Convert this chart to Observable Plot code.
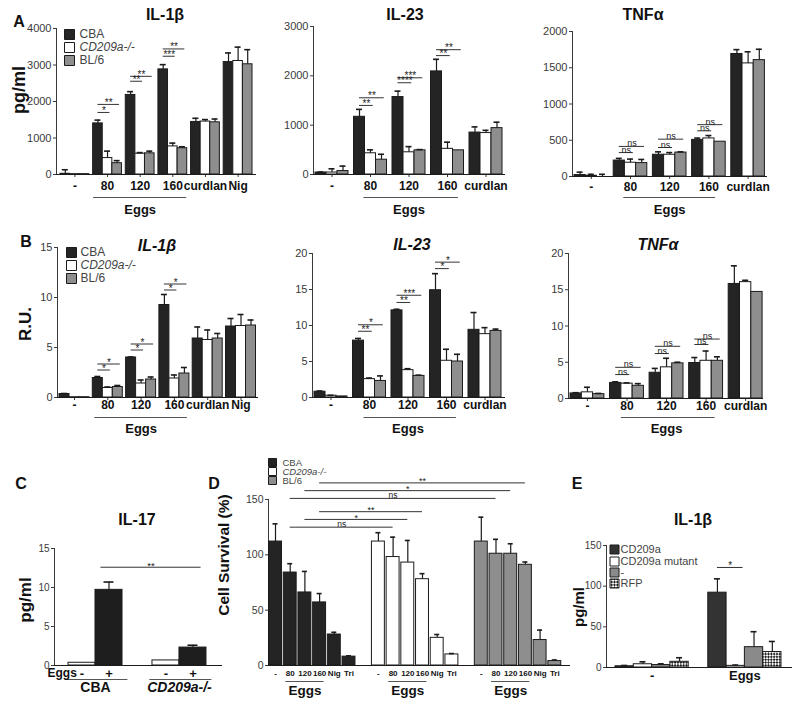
<!DOCTYPE html>
<html><head><meta charset="utf-8">
<script src="https://cdn.jsdelivr.net/npm/d3@7"></script>
<script src="https://cdn.jsdelivr.net/npm/@observablehq/plot@0.6"></script>
<style>
body{margin:0;background:#fff;font-family:"Liberation Sans",Arial,sans-serif;}
#root{position:relative;width:800px;height:705px;overflow:hidden;background:#fff;}
.abs{position:absolute;white-space:nowrap;font-weight:bold;color:#111;line-height:1;}
.ctr{transform:translate(-50%,-50%);}
.rot{transform:translate(-50%,-50%) rotate(-90deg);}
</style></head><body><div id="root"></div>
<script>
// ---------------- DATA ----------------
const seriesNames = ["CBA", "CD209a-/-", "BL/6"];
const seriesColors = ["#242424", "#ffffff", "#8e8e8e"];
const treatA = ["-", "80", "120", "160", "curdlan", "Nig"];
const treatA5 = ["-", "80", "120", "160", "curdlan"];

// Panel A, IL-1β (pg/ml)
const aIl1bCBA = [20, 1400, 2180, 2880, 1440, 3080];
const aIl1bCBAErr = [110, 90, 90, 130, 100, 250];
const aIl1bKO = [10, 450, 570, 770, 1450, 3110];
const aIl1bKOErr = [0, 190, 30, 90, 55, 380];
const aIl1bBL6 = [10, 310, 580, 720, 1430, 3020];
const aIl1bBL6Err = [0, 70, 60, 40, 90, 400];
const aIl1bSig = [[1, 1, 1700, "*"], [1, 2, 1920, "**"], [2, 1, 2555, "**"], [2, 2, 2690, "**"], [3, 1, 3240, "***"], [3, 2, 3440, "**"]];
// Panel A, IL-23
const aIl23CBA = [40, 1170, 1570, 2090, 850];
const aIl23CBAErr = [10, 150, 120, 245, 115];
const aIl23KO = [40, 430, 450, 520, 840];
const aIl23KOErr = [75, 70, 115, 135, 55];
const aIl23BL6 = [70, 300, 490, 490, 940];
const aIl23BL6Err = [100, 110, 15, 0, 120];
const aIl23Sig = [[1, 1, 1400, "**"], [1, 2, 1555, "**"], [2, 1, 1860, "****"], [2, 2, 1960, "***"], [3, 1, 2410, "**"], [3, 2, 2530, "**"]];
// Panel A, TNFα
const aTnfCBA = [20, 220, 300, 505, 1690];
const aTnfCBAErr = [40, 30, 40, 25, 60];
const aTnfKO = [10, 190, 300, 525, 1560];
const aTnfKOErr = [20, 50, 30, 40, 160];
const aTnfBL6 = [0, 185, 330, 480, 1605];
const aTnfBL6Err = [30, 50, 10, 0, 150];
const aTnfSig = [[1, 1, 330, "ns"], [1, 2, 415, "ns"], [2, 1, 400, "ns"], [2, 2, 515, "ns"], [3, 1, 630, "ns"], [3, 2, 715, "ns"]];

// Panel B, IL-1β (R.U.)
const bIl1bCBA = [0.35, 1.95, 4.0, 9.25, 5.9, 7.1];
const bIl1bCBAErr = [0.05, 0.15, 0.05, 1.05, 1.15, 0.8];
const bIl1bKO = [0.03, 0.95, 1.4, 1.9, 5.75, 7.15];
const bIl1bKOErr = [0, 0.1, 0.35, 0.35, 1.0, 1.15];
const bIl1bBL6 = [0.03, 1.05, 1.8, 2.4, 5.9, 7.2];
const bIl1bBL6Err = [0, 0.15, 0.25, 0.6, 0.5, 0.55];
const bIl1bSig = [[1, 1, 2.75, "*"], [1, 2, 3.35, "*"], [2, 1, 4.75, "*"], [2, 2, 5.35, "*"], [3, 1, 10.75, "*"], [3, 2, 11.35, "*"]];
// Panel B, IL-23
const bIl23CBA = [0.8, 7.9, 12.1, 14.9, 9.4];
const bIl23CBAErr = [0.1, 0.3, 0.15, 2.3, 2.4];
const bIl23KO = [0.25, 2.55, 3.8, 5.1, 8.8];
const bIl23KOErr = [0.05, 0.15, 0.2, 1.6, 0.9];
const bIl23BL6 = [0.15, 2.3, 3.0, 5.0, 9.25];
const bIl23BL6Err = [0, 0.7, 0.1, 1.0, 0.25];
const bIl23Sig = [[1, 1, 9.2, "**"], [1, 2, 10.1, "*"], [2, 1, 13.2, "**"], [2, 2, 14.2, "***"], [3, 1, 17.9, "*"], [3, 2, 18.8, "*"]];
// Panel B, TNFα
const bTnfCBA = [0.7, 2.15, 3.55, 4.9, 15.8];
const bTnfCBAErr = [0.1, 0.15, 0.6, 0.75, 2.5];
const bTnfKO = [0.85, 2.05, 4.3, 5.2, 16.05];
const bTnfKOErr = [0.7, 0.1, 1.25, 1.35, 0.25];
const bTnfBL6 = [0.6, 1.75, 4.85, 5.2, 14.7];
const bTnfBL6Err = [0.1, 0.3, 0.15, 0.55, 0];
const bTnfSig = [[1, 1, 3.3, "ns"], [1, 2, 4.3, "ns"], [2, 1, 6.2, "ns"], [2, 2, 7.2, "ns"], [3, 1, 7.45, "ns"], [3, 2, 8.2, "ns"]];

// Panel C, IL-17 (pg/ml): [Eggs -, Eggs +]
const cStrains = ["CBA", "CD209a-/-"];
const cEggs = ["-", "+"];
const cCBA = [0.35, 9.7];
const cCBAErr = [0, 1.0];
const cKO = [0.65, 2.3];
const cKOErr = [0, 0.3];
const cSig = [12.6, "**"];

// Panel D, cell survival (%)
const dTreat = ["-", "80", "120", "160", "Nig", "Tri"];
const dCBA = [112, 84, 66, 57, 28, 8];
const dCBAErr = [16, 8, 19, 8, 2, 0.7];
const dKO = [112, 98, 93, 78, 25, 10];
const dKOErr = [8, 18, 20, 5, 3, 0.8];
const dBL6 = [112, 101, 101, 91, 23, 4];
const dBL6Err = [22, 13, 9, 2.5, 9, 1];
const dSig = [[3, 2, 165, "**"], [2, 2, 158, "*"], [1, 2, 151, "ns"], [3, 1, 139, "**"], [2, 1, 132, "*"], [1, 1, 125, "ns"]];

// Panel E, IL-1β (pg/ml)
const eGroups = ["-", "Eggs"];
const eNames = ["CD209a", "CD209a mutant", "-", "RFP"];
const eColors = ["#333333", "#ffffff", "#8a8a8a", "url(#checker)"];
const eCD209a = [1.5, 92];
const eCD209aErr = [1, 17];
const eMutant = [4, 2];
const eMutantErr = [3, 1];
const eNone = [3, 25];
const eNoneErr = [1.5, 19];
const eRFP = [7, 19];
const eRFPErr = [5, 13];
const eSig = [123, "*"];

// ---------------- HELPERS ----------------
const root = document.getElementById("root");
const INK = "#1b1b1b";
const FONT = "Liberation Sans, Arial, sans-serif";

function addText(txt, x, y, size, cls, italic) {
  const d = document.createElement("div");
  d.className = "abs " + cls;
  d.style.left = x + "px"; d.style.top = y + "px";
  d.style.fontSize = size + "px";
  if (italic) d.style.fontStyle = "italic";
  d.textContent = txt;
  root.appendChild(d);
}

function makeChart(o) {
  const L = o.layout;
  const mL = 44, mR = 8, mT = L.mT, mB = L.mB;
  const width = mL + (L.bx - L.ax) + mR;
  const height = mT + (L.y0 - L.yTop) + mB;
  const xd = [(L.ax - L.p0) / L.upx, (L.bx - L.p0) / L.upx];
  const cap = (L.cap ?? 3) / L.upx;
  const marks = [];
  marks.push(Plot.rect(o.bars, {x1: d => d.pos - d.hw, x2: d => d.pos + d.hw, y1: () => 0, y2: d => d.v,
    fill: d => d.fill, stroke: INK, strokeWidth: 1}));
  const eb = o.bars.filter(d => d.e > 0);
  marks.push(Plot.ruleX(eb, {x: d => d.pos, y1: d => d.v, y2: d => d.v + d.e, stroke: INK, strokeWidth: 1.2}));
  marks.push(Plot.ruleY(eb, {y: d => d.v + d.e, x1: d => d.pos - cap, x2: d => d.pos + cap, stroke: INK, strokeWidth: 1.6}));
  marks.push(Plot.ruleY([0], {stroke: INK, strokeWidth: 1.2}));
  if (o.brackets) {
    marks.push(Plot.ruleY(o.brackets, {y: d => d.y, x1: d => d.x1, x2: d => d.x2, stroke: "#333", strokeWidth: 1}));
    const st = o.brackets.filter(d => d.label !== "ns");
    const ns = o.brackets.filter(d => d.label === "ns");
    marks.push(Plot.text(st, {x: d => (d.x1 + d.x2) / 2, y: d => d.y, text: d => d.label, lineAnchor: "bottom",
      dy: 1.5, fontSize: o.sigSize ?? 10, fill: "#222"}));
    marks.push(Plot.text(ns, {x: d => (d.x1 + d.x2) / 2, y: d => d.y, text: d => d.label, lineAnchor: "bottom",
      dy: 0, fontSize: o.nsSize ?? 9, fill: "#222"}));
  }
  if (o.labels) {
    marks.push(Plot.text(o.labels, {x: d => d.pos, text: d => d.text, frameAnchor: "bottom", lineAnchor: "middle",
      dy: o.labelDy, fontSize: o.labelSize, fontWeight: "bold", fill: "#111"}));
  }
  if (o.lines) {
    marks.push(Plot.ruleY(o.lines, {y: () => 0, x1: d => d.x1, x2: d => d.x2, dy: o.lineDy, stroke: "#555", strokeWidth: 1.2}));
  }
  if (o.under) {
    const norm = o.under.filter(d => !d.italic), ital = o.under.filter(d => d.italic);
    const base = {x: d => d.pos, text: d => d.text, frameAnchor: "bottom", lineAnchor: "middle",
      dy: o.underDy, fontSize: o.underSize, fontWeight: "bold", fill: "#111"};
    marks.push(Plot.text(norm, base));
    marks.push(Plot.text(ital, {...base, fontStyle: "italic"}));
  }
  if (o.extra) marks.push(...o.extra);
  if (o.legend) {
    const lg = o.legend;
    lg.items.forEach((it, i) => {
      marks.push(Plot.dot([it], {frameAnchor: "top-left", dx: lg.dx, dy: lg.dy[i], symbol: "square",
        r: lg.side / Math.sqrt(Math.PI), fill: d => d.fill, stroke: INK, strokeWidth: 1}));
      marks.push(Plot.text([it], {frameAnchor: "top-left", dx: lg.textDx, dy: lg.dy[i], text: d => d.name,
        textAnchor: "start", lineAnchor: "middle", fontSize: lg.fontSize, fill: "#444",
        fontStyle: it.italic ? "italic" : "normal"}));
    });
  }
  const xOpt = o.xTicks
    ? {domain: xd, ticks: o.xTicks, tickFormat: () => "", tickSize: 3, label: null}
    : {domain: xd, axis: null};
  const svg = Plot.plot({
    width, height, marginLeft: mL, marginRight: mR, marginTop: mT, marginBottom: mB,
    x: xOpt,
    y: {domain: [0, o.yMax], ticks: o.yTicks, tickFormat: d => String(d), tickSize: 3, tickPadding: 2, line: true, label: null},
    color: {type: "identity"},
    style: {fontFamily: FONT, fontSize: (o.tickSize ?? 11) + "px", color: "#3a3a3a", background: "transparent", overflow: "visible"},
    marks
  });
  if (o.defs) d3.select(svg).insert("defs", ":first-child").html(o.defs);
  const div = document.createElement("div");
  div.style.position = "absolute";
  div.style.left = (L.ax - mL) + "px";
  div.style.top = (L.yTop - mT) + "px";
  div.style.width = width + "px";
  div.appendChild(svg);
  root.appendChild(div);
}

// grouped bars for A / B panels
function groupedChart(layout, pitch, cats, vals, errs, sig, yMax, yTicks, eggsInset, dys, legend) {
  const bars = [];
  vals.forEach((arr, s) => arr.forEach((v, g) => bars.push({pos: g * pitch + s + 0.5, v, e: errs[s][g], fill: seriesColors[s], hw: 0.5})));
  const brackets = sig.map(([g, to, y, label]) => ({x1: g * pitch + 0.5, x2: g * pitch + to + 0.75, y, label}));
  const labels = cats.map((c, g) => ({pos: g * pitch + 1.5, text: c}));
  const lines = [{x1: pitch + eggsInset[0], x2: 3 * pitch + 3 - eggsInset[1]}];
  const under = [{pos: (pitch + 3 * pitch + 3) / 2, text: "Eggs"}];
  makeChart({layout, bars, brackets, labels, lines, under, yMax, yTicks, legend,
    xTicks: labels.map(d => d.pos), labelDy: dys[0], labelSize: 12, lineDy: dys[1], underDy: dys[2], underSize: 13});
}

function legend3(dx, dy, textDx, side, fontSize) {
  return {dx, dy, textDx, side, fontSize,
    items: seriesNames.map((n, i) => ({name: n, fill: seriesColors[i], italic: i === 1}))};
}

// ---------------- PANEL A ----------------
groupedChart({ax: 56, bx: 256, yTop: 28, y0: 174, p0: 60, upx: 9.6, mT: 14, mB: 46}, 3.4, treatA,
  [aIl1bCBA, aIl1bKO, aIl1bBL6], [aIl1bCBAErr, aIl1bKOErr, aIl1bBL6Err], aIl1bSig,
  4000, [0, 1000, 2000, 3000, 4000], [0.05, 0.05], [12, 23, 35], legend3(13, [6, 19, 32], 23, 10, 12));
groupedChart({ax: 313, bx: 505, yTop: 26, y0: 174, p0: 315, upx: 11, mT: 14, mB: 46}, 3.5, treatA5,
  [aIl23CBA, aIl23KO, aIl23BL6], [aIl23CBAErr, aIl23KOErr, aIl23BL6Err], aIl23Sig,
  3000, [0, 1000, 2000, 3000], [0.9, 0.5], [12, 23, 35], null);
groupedChart({ax: 572, bx: 767, yTop: 31, y0: 176, p0: 574, upx: 11.2, mT: 14, mB: 46}, 3.5, treatA5,
  [aTnfCBA, aTnfKO, aTnfBL6], [aTnfCBAErr, aTnfKOErr, aTnfBL6Err], aTnfSig,
  2000, [0, 500, 1000, 1500, 2000], [0.9, 0.9], [11, 21, 33], null);

// ---------------- PANEL B ----------------
groupedChart({ax: 57, bx: 258, yTop: 247, y0: 397, p0: 59, upx: 10, mT: 14, mB: 40}, 3.33, treatA,
  [bIl1bCBA, bIl1bKO, bIl1bBL6], [bIl1bCBAErr, bIl1bKOErr, bIl1bBL6Err], bIl1bSig,
  15, [0, 5, 10, 15], [0.2, 0.2], [8, 20, 31], legend3(14, [5, 18, 31], 23, 10, 12));
groupedChart({ax: 312, bx: 505, yTop: 253, y0: 397, p0: 314, upx: 11, mT: 14, mB: 40}, 3.5, treatA5,
  [bIl23CBA, bIl23KO, bIl23BL6], [bIl23CBAErr, bIl23KOErr, bIl23BL6Err], bIl23Sig,
  20, [0, 5, 10, 15, 20], [1.0, 0.6], [8, 20, 31], null);
groupedChart({ax: 568, bx: 763, yTop: 253, y0: 398, p0: 570, upx: 11.3, mT: 14, mB: 40}, 3.5, treatA5,
  [bTnfCBA, bTnfKO, bTnfBL6], [bTnfCBAErr, bTnfKOErr, bTnfBL6Err], bTnfSig,
  20, [0, 5, 10, 15, 20], [1.0, 0.7], [8, 19, 30], null);

// ---------------- PANEL C ----------------
(function () {
  const pitch = 3.11;
  const vals = [cCBA, cKO], errs = [cCBAErr, cKOErr];
  const bars = [];
  vals.forEach((arr, g) => arr.forEach((v, s) => bars.push({pos: g * pitch + s + 0.5, v, e: errs[g][s], fill: s === 0 ? "#ffffff" : "#1e1e1e", hw: 0.5})));
  const brackets = [{x1: 1.5 - 0.3, x2: pitch + 1.5 + 0.3, y: cSig[0], label: cSig[1]}];
  const labels = [];
  cStrains.forEach((st, g) => cEggs.forEach((e, s) => labels.push({pos: g * pitch + s + 0.5, text: e})));
  const lines = cStrains.map((st, g) => ({x1: g * pitch - 0.1, x2: g * pitch + 2.2}));
  const under = cStrains.map((st, g) => ({pos: g * pitch + 1, text: st, italic: g === 1}));
  const extra = [Plot.text(["Eggs"], {frameAnchor: "bottom-left", dx: -7, dy: 8, text: d => d, lineAnchor: "middle",
    fontSize: 12, fontWeight: "bold", fill: "#111"})];
  makeChart({layout: {ax: 54, bx: 222, yTop: 548, y0: 665, p0: 68, upx: 27, mT: 14, mB: 36, cap: 5},
    bars, brackets, labels, lines, under, extra, yMax: 15, yTicks: [0, 5, 10, 15], tickSize: 10,
    labelDy: 8, labelSize: 13, lineDy: 14, underDy: 22, underSize: 14, sigSize: 9.5});
})();

// ---------------- PANEL D ----------------
(function () {
  const vals = [dCBA, dKO, dBL6], errs = [dCBAErr, dKOErr, dBL6Err];
  const slot = (s, t) => s * 7 + t;
  const bars = [];
  vals.forEach((arr, s) => arr.forEach((v, t) => bars.push({pos: slot(s, t), v, e: errs[s][t], fill: seriesColors[s], hw: 0.44})));
  const brackets = dSig.map(([t, s, y, label]) => ({x1: slot(0, t), x2: slot(s, t), y, label}));
  const labels = [];
  vals.forEach((arr, s) => dTreat.forEach((c, t) => labels.push({pos: slot(s, t), text: c})));
  const lines = vals.map((arr, s) => ({x1: slot(s, 1) - 0.3, x2: slot(s, 3) + 0.3}));
  const under = vals.map((arr, s) => ({pos: slot(s, 2), text: "Eggs"}));
  makeChart({layout: {ax: 268, bx: 570, yTop: 499, y0: 665, p0: 275, upx: 14.7, mT: 46, mB: 32, cap: 2.5},
    bars, brackets, labels, lines, under, yMax: 150, yTicks: [0, 50, 100, 150], tickSize: 10.5,
    labelDy: 8, labelSize: 8, lineDy: 16, underDy: 25, underSize: 13.5, sigSize: 9, nsSize: 8.5,
    legend: legend3(4, [-37, -28, -19], 14, 8, 9.5)});
})();

// ---------------- PANEL E ----------------
(function () {
  const pitch = 5.07;
  const vals = [eCD209a, eMutant, eNone, eRFP], errs = [eCD209aErr, eMutantErr, eNoneErr, eRFPErr];
  const bars = [];
  vals.forEach((arr, s) => arr.forEach((v, g) => bars.push({pos: g * pitch + s + 0.5, v, e: errs[s][g], fill: eColors[s], hw: 0.5})));
  const brackets = [{x1: pitch + 0.5, x2: pitch + 1.9, y: eSig[0], label: eSig[1]}];
  const labels = eGroups.map((c, g) => ({pos: g * pitch + 2, text: c}));
  const defs = '<pattern id="checker" width="4" height="4" patternUnits="userSpaceOnUse" patternTransform="rotate(45)">' +
    '<rect width="4" height="4" fill="#ffffff"/><rect width="2" height="2" fill="#222"/><rect x="2" y="2" width="2" height="2" fill="#222"/></pattern>';
  makeChart({layout: {ax: 606, bx: 792, yTop: 545, y0: 667, p0: 615, upx: 18.3, mT: 14, mB: 24, cap: 3},
    bars, brackets, labels, yMax: 150, yTicks: [0, 50, 100, 150], tickSize: 10, defs,
    labelDy: 8, labelSize: 13, sigSize: 10,
    legend: {dx: 8, dy: [4, 16, 27, 38], textDx: 14, side: 9, fontSize: 11,
      items: eNames.map((n, i) => ({name: n, fill: eColors[i], italic: false}))}});
})();

// ---------------- TEXT: letters, titles, axis labels ----------------
addText("A", 19, 22, 16, "ctr");
addText("B", 26, 242, 16, "ctr");
addText("C", 21, 484, 16, "ctr");
addText("D", 214, 484, 16, "ctr");
addText("E", 577, 484, 16, "ctr");
addText("IL-1β", 165, 15, 16, "ctr");
addText("IL-23", 405, 15, 16, "ctr");
addText("TNFα", 643, 15, 16, "ctr");
addText("IL-1β", 157, 246, 16, "ctr", true);
addText("IL-23", 412, 245, 16, "ctr", true);
addText("TNFα", 658, 245, 16, "ctr", true);
addText("IL-17", 137, 520, 16, "ctr");
addText("IL-1β", 693, 520, 16, "ctr");
addText("pg/ml", 19, 90, 18, "rot");
addText("R.U.", 25, 324, 17, "rot");
addText("pg/ml", 25, 600, 17, "rot");
addText("Cell Survival (%)", 224, 555, 15.5, "rot");
addText("pg/ml", 578, 607, 15, "rot");
</script></body></html>
